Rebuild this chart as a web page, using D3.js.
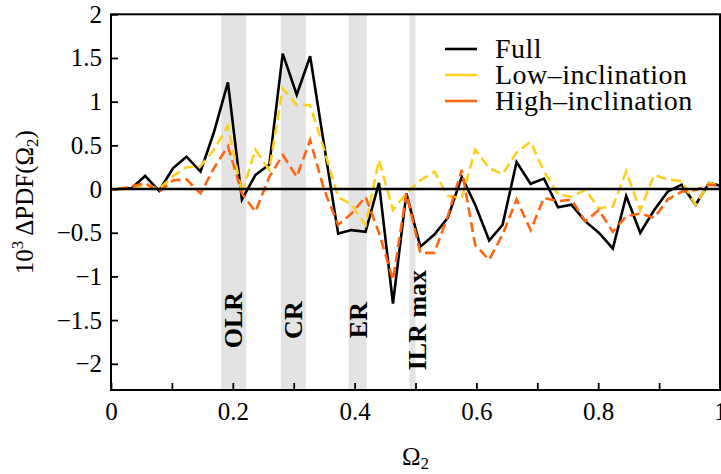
<!DOCTYPE html>
<html><head><meta charset="utf-8">
<script src="https://cdn.jsdelivr.net/npm/d3@7"></script>
<style>body{margin:0;background:#fff}svg{display:block}</style>
</head><body><svg id="c" width="721" height="474"></svg>
<script>
// ---- data ----
const omega = [0.011,0.034,0.056,0.079,0.102,0.124,0.147,0.169,0.192,0.215,
  0.237,0.260,0.282,0.305,0.327,0.350,0.373,0.395,0.418,0.440,
  0.463,0.485,0.508,0.531,0.553,0.576,0.598,0.621,0.643,0.666,
  0.689,0.711,0.734,0.756,0.779,0.801,0.824,0.846,0.869,0.892,
  0.914,0.937,0.960,0.982,1.005];
const full = [0,0.01,0.15,-0.02,0.24,0.37,0.20,0.65,1.22,-0.12,
  0.16,0.28,1.55,1.08,1.52,0.50,-0.51,-0.47,-0.49,0.07,
  -1.31,-0.05,-0.66,-0.52,-0.33,0.14,-0.18,-0.59,-0.41,0.31,
  0.06,0.12,-0.21,-0.18,-0.37,-0.50,-0.68,-0.08,-0.50,-0.24,
  -0.03,0.05,-0.18,0.07,0.03];
const lowInc = [0,0.0,0.05,0.0,0.15,0.25,0.26,0.45,0.72,-0.05,
  0.45,0.22,1.15,0.96,0.96,0.45,-0.09,-0.18,-0.41,0.33,
  -0.24,-0.05,0.10,0.20,-0.08,-0.10,0.45,0.24,0.17,0.42,
  0.54,0.20,-0.06,-0.09,-0.01,-0.22,-0.20,0.20,-0.24,0.16,
  0.11,0.09,-0.18,0.07,0.03];
const highInc = [0,0.03,0.07,-0.03,0.10,0.11,-0.05,0.24,0.49,-0.05,
  -0.26,0.14,0.39,0.14,0.56,-0.01,-0.41,-0.28,-0.09,-0.50,
  -1.04,-0.05,-0.73,-0.73,-0.31,0.22,-0.64,-0.81,-0.52,-0.12,
  -0.47,-0.10,-0.14,-0.12,-0.37,-0.24,-0.49,-0.31,-0.28,-0.33,
  -0.12,-0.03,-0.01,0.05,0.03];
const seriesNames = ["Full","Low\u2013inclination","High\u2013inclination"];
const bandNames = ["OLR","CR","ER","ILR max"];
const bandStart = [0.181,0.279,0.390,0.490];
const bandEnd   = [0.222,0.320,0.420,0.500];
const bandLabelX = [0.215,0.314,0.421,0.518];
const bandLabelY = -1.5;
const xTicks = [0,0.2,0.4,0.6,0.8,1];
const xMinorTicks = [0.1,0.3,0.5,0.7,0.9];
const yTicks = [-2,-1.5,-1,-0.5,0,0.5,1,1.5,2];

// ---- layout / style ----
const L = 111, R = 720, T = 14.3, B = 390;
const FONT = "'Liberation Serif','Times New Roman',serif";
const colors = ["#000000","#fcd01c","#ff6612"];
const dashes = [null,"10,5","10,5"];

const svg = d3.select("#c");
const x = d3.scaleLinear().domain([0,1]).range([L,R]);
const y = d3.scaleLinear().domain([-2.3,2]).range([B,T]);

svg.append("defs").append("clipPath").attr("id","clip")
  .append("rect").attr("x",L).attr("y",T).attr("width",R-L).attr("height",B-T);

// bands
svg.append("g").selectAll("rect").data(bandNames).join("rect")
  .attr("x",(d,i)=>x(bandStart[i])).attr("width",(d,i)=>x(bandEnd[i])-x(bandStart[i]))
  .attr("y",T).attr("height",B-T).attr("fill","#e3e3e3");

// band labels
svg.append("g").selectAll("text").data(bandNames).join("text")
  .attr("transform",(d,i)=>`translate(${x(bandLabelX[i])},${y(bandLabelY)}) rotate(-90)`)
  .attr("text-anchor","middle").attr("font-family",FONT).attr("font-weight","bold")
  .attr("font-size",26).attr("fill","#000").text(d=>d);

// series
const allSeries = [full, lowInc, highInc];
const line = d3.line().x((d,i)=>x(omega[i])).y(d=>y(d));
const gl = svg.append("g").attr("clip-path","url(#clip)");
allSeries.forEach((s,k)=>{
  gl.append("path").datum(s).attr("d",line).attr("fill","none")
    .attr("stroke",colors[k]).attr("stroke-width",2.6)
    .attr("stroke-linejoin","miter").attr("stroke-dasharray",dashes[k]);
});
// zero line
gl.append("line").attr("x1",L).attr("x2",R).attr("y1",y(0)).attr("y2",y(0))
  .attr("stroke","#000").attr("stroke-width",2.6);

// axes (ticks inward)
const xAxis = d3.axisBottom(x).tickValues(xTicks).tickSize(-7).tickPadding(12)
  .tickFormat(d=>d===0?"0":d===1?"1":d3.format(".1f")(d));
const gx = svg.append("g").attr("transform",`translate(0,${B})`).call(xAxis);
const gxm = svg.append("g").attr("transform",`translate(0,${B})`)
  .call(d3.axisBottom(x).tickValues(xMinorTicks).tickSize(-7).tickFormat(""));
const yAxis = d3.axisLeft(y).tickValues(yTicks).tickSize(-7).tickPadding(9)
  .tickFormat(d=>{const s=d3.format("")(d);return s.replace("-","\u2212");});
const gy = svg.append("g").attr("transform",`translate(${L},0)`).call(yAxis);
[gx,gxm,gy].forEach(g=>{
  g.select(".domain").remove();
  g.selectAll(".tick line").attr("stroke","#000").attr("stroke-width",1.8);
  g.selectAll("text").attr("font-family",FONT).attr("font-size",25).attr("fill","#000");
});

// frame
svg.append("rect").attr("x",L).attr("y",T).attr("width",R-L).attr("height",B-T)
  .attr("fill","none").attr("stroke","#000").attr("stroke-width",2);

// axis labels
const xl = svg.append("text").attr("x",(L+R)/2).attr("y",465).attr("text-anchor","middle")
  .attr("font-family",FONT).attr("font-size",25);
xl.append("tspan").text("\u03A9");
xl.append("tspan").attr("font-size",17).attr("dy",4).text("2");

const yl = svg.append("text").attr("transform",`translate(33,${(T+B)/2}) rotate(-90)`)
  .attr("text-anchor","middle").attr("font-family",FONT).attr("font-size",25);
yl.append("tspan").text("10");
yl.append("tspan").attr("font-size",17).attr("dy",-10).text("3");
yl.append("tspan").attr("dy",10).text("\u2009\u0394PDF(\u03A9");
yl.append("tspan").attr("font-size",17).attr("dy",5).text("2");
yl.append("tspan").attr("dy",-5).text(")");

// legend
const lg = svg.append("g");
seriesNames.forEach((n,k)=>{
  const yy = 49 + k*26;
  lg.append("line").attr("x1",445).attr("x2",477).attr("y1",yy).attr("y2",yy)
    .attr("stroke",colors[k]).attr("stroke-width",2.6);
  lg.append("text").attr("x",495).attr("y",yy+9).attr("font-family",FONT)
    .attr("font-size",28).attr("letter-spacing",0.5).attr("fill","#000").text(n);
});
</script></body></html>
